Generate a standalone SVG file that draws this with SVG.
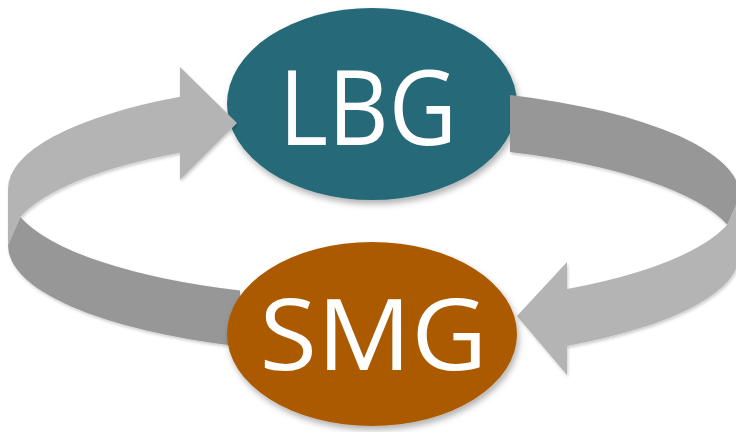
<svg xmlns="http://www.w3.org/2000/svg" width="736" height="432" viewBox="0 0 736 432">
  <defs>
    <filter id="shadow" x="-10%" y="-10%" width="125%" height="130%">
      <feDropShadow dx="2" dy="4" stdDeviation="3" flood-color="#000" flood-opacity="0.3"/>
    </filter>
    <filter id="ashadow" x="-5%" y="-5%" width="115%" height="120%">
      <feDropShadow dx="1" dy="2" stdDeviation="1.5" flood-color="#000" flood-opacity="0.2"/>
    </filter>
  </defs>
  <style>
    .light { fill: #b4b4b4; }
    .dark { fill: #979797; }
    .label { font-family: "Open Sans", "Noto Sans", sans-serif; fill: #ffffff; text-anchor: middle; }
  </style>
  <rect width="736" height="432" fill="#ffffff"/>

  <g id="node-lbg" filter="url(#shadow)">
    <ellipse cx="372" cy="104" rx="145" ry="96" fill="#286a79"/>
    <text class="label" x="368" y="145" font-size="105" textLength="178" lengthAdjust="spacingAndGlyphs">LBG</text>
  </g>

  <g id="connectors" filter="url(#ashadow)">
    <g id="arrow-smg-to-lbg">
      <path class="dark" d="M 20.3,217 A 364 108.5 0 0 0 240,290.5 L 240,346.5 A 364 108.5 0 0 1 8,245 Z"/>
      <path class="light" d="M 180,96.8 A 364 108.5 0 0 0 8,189 L 8,245 L 20.3,217 A 364 108.5 0 0 1 180,152.8 L 180,180 L 237,123 L 180,67 Z"/>
    </g>
    <g id="arrow-lbg-to-smg">
      <path class="dark" d="M 510,95.05 A 364 108.9 0 0 1 740,196.3 L 727.3,224.8 A 364 108.9 0 0 0 510,152.05 Z"/>
      <path class="light" d="M 727.3,224.8 L 740,196.3 L 740,253.3 A 364 108.9 0 0 1 567,346 L 567,375 L 517,316 L 567,262 L 567,289 A 364 108.9 0 0 0 727.3,224.8 Z"/>
    </g>
  </g>

  <g id="node-smg" filter="url(#shadow)">
    <ellipse cx="372" cy="334" rx="145" ry="92" fill="#ab5a00"/>
    <text class="label" x="373.5" y="370" font-size="99" textLength="228" lengthAdjust="spacingAndGlyphs">SMG</text>
  </g>
</svg>
